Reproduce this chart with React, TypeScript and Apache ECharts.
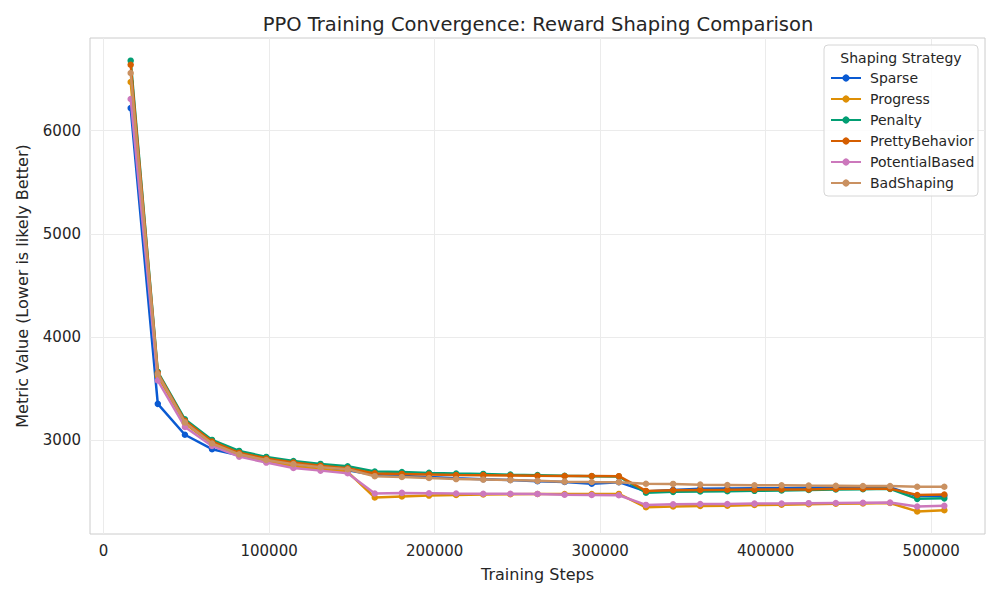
import React, { useEffect, useRef } from "react";
import * as echarts from "echarts";

const steps = [16384, 32768, 49152, 65536, 81920, 98304, 114688, 131072, 147456, 163840, 180224, 196608, 212992, 229376, 245760, 262144, 278528, 294912, 311296, 327680, 344064, 360448, 376832, 393216, 409600, 425984, 442368, 458752, 475136, 491520, 507904];

const sparse = [6220, 3350, 3050, 2910, 2850, 2790, 2750, 2725, 2705, 2660, 2650, 2640, 2628, 2618, 2612, 2600, 2592, 2575, 2590, 2500, 2515, 2525, 2528, 2530, 2532, 2535, 2537, 2538, 2540, 2455, 2458];
const progress = [6473, 3620, 3160, 2960, 2855, 2795, 2745, 2715, 2690, 2441, 2452, 2460, 2465, 2470, 2473, 2475, 2474, 2475, 2476, 2346, 2354, 2359, 2362, 2368, 2372, 2376, 2380, 2384, 2388, 2306, 2318];
const penalty = [6680, 3660, 3200, 3000, 2893, 2835, 2795, 2767, 2745, 2693, 2688, 2680, 2673, 2670, 2663, 2658, 2652, 2648, 2645, 2488, 2496, 2500, 2503, 2506, 2510, 2515, 2520, 2522, 2525, 2428, 2433];
const prettyBehavior = [6641, 3650, 3185, 2985, 2875, 2820, 2780, 2750, 2725, 2675, 2670, 2665, 2660, 2658, 2655, 2652, 2650, 2650, 2648, 2505, 2512, 2515, 2516, 2518, 2520, 2520, 2525, 2526, 2527, 2466, 2470];
const potentialBased = [6308, 3576, 3126, 2942, 2838, 2780, 2728, 2702, 2676, 2480, 2486, 2483, 2480, 2478, 2478, 2476, 2468, 2466, 2463, 2369, 2375, 2378, 2378, 2382, 2383, 2386, 2388, 2390, 2392, 2354, 2360];
const badShaping = [6560, 3640, 3170, 2965, 2860, 2805, 2765, 2735, 2715, 2648, 2640, 2630, 2620, 2615, 2610, 2603, 2595, 2592, 2590, 2575, 2573, 2566, 2563, 2560, 2560, 2557, 2555, 2553, 2552, 2545, 2545];

const seriesNames = ["Sparse", "Progress", "Penalty", "PrettyBehavior", "PotentialBased", "BadShaping"];
const seriesValues = [sparse, progress, penalty, prettyBehavior, potentialBased, badShaping];
const colors = ["#0a5ad2", "#de8f05", "#029e73", "#d55e00", "#cc78bc", "#ca9161"];

const xTicks = [0, 100000, 200000, 300000, 400000, 500000];
const yTicks = [3000, 4000, 5000, 6000];

const FONT = "DejaVu Sans";

export default function App() {
  const ref = useRef<HTMLDivElement>(null);
  useEffect(() => {
    if (!ref.current) return;
    const chart = echarts.init(ref.current, undefined, { renderer: "svg" });
    const series = seriesNames.map((name, i) => ({
      name,
      type: "line",
      data: steps.map((s, j) => [s, seriesValues[i][j]]),
      symbol: "circle",
      symbolSize: 6.5,
      showSymbol: true,
      lineStyle: { width: 2.5, color: colors[i] },
      itemStyle: { color: colors[i] },
      emphasis: { disabled: true },
      z: 2 + i,
    }));
    chart.setOption({
      animation: false,
      backgroundColor: "#ffffff",
      textStyle: { fontFamily: FONT },
      title: {
        text: "PPO Training Convergence: Reward Shaping Comparison",
        left: 538,
        top: 14,
        padding: 0,
        textAlign: "center",
        textStyle: { fontFamily: FONT, fontSize: 19.5, fontWeight: "normal", color: "#262626" },
      },
      grid: { left: 90, right: 15, top: 38, bottom: 66, show: true, borderColor: "#cccccc", borderWidth: 1, backgroundColor: "transparent" },
      xAxis: {
        type: "value",
        min: -8192,
        max: 532480,
        name: "Training Steps",
        nameLocation: "middle",
        nameGap: 32,
        nameTextStyle: { fontFamily: FONT, fontSize: 16, color: "#262626" },
        axisLine: { show: false },
        axisTick: { show: false, customValues: xTicks },
        axisLabel: { customValues: xTicks, margin: 9, fontFamily: FONT, fontSize: 15, color: "#262626", formatter: (v: number) => String(v) },
        splitLine: { show: true, lineStyle: { color: "#ebebeb", width: 1 } },
      },
      yAxis: {
        type: "value",
        min: 2087,
        max: 6900,
        name: "Metric Value (Lower is likely Better)",
        nameLocation: "middle",
        nameGap: 60,
        nameTextStyle: { fontFamily: FONT, fontSize: 16, color: "#262626" },
        axisLine: { show: false },
        axisTick: { show: false, customValues: yTicks },
        axisLabel: { customValues: yTicks, margin: 9, fontFamily: FONT, fontSize: 15, color: "#262626", formatter: (v: number) => String(v) },
        splitLine: { show: true, lineStyle: { color: "#ebebeb", width: 1 } },
      },
      legend: {
        data: seriesNames,
        orient: "vertical",
        left: 830,
        top: 71,
        itemWidth: 30,
        itemHeight: 9,
        itemGap: 7,
        padding: 0,
        selectedMode: false,
        textStyle: { fontFamily: FONT, fontSize: 14, color: "#262626", padding: [0, 0, 0, 4] },
        z: 10,
      },
      graphic: [
        {
          type: "rect",
          z: 8,
          shape: { x: 824, y: 45, width: 154, height: 151, r: 4 },
          style: { fill: "rgba(255,255,255,0.85)", stroke: "#d6d6d6", lineWidth: 1 },
        },
        {
          type: "text",
          z: 9,
          x: 901,
          y: 58,
          style: { text: "Shaping Strategy", fontFamily: FONT, fontSize: 14, fill: "#262626", align: "center", verticalAlign: "middle" },
        },
      ],
      series,
    });
    return () => chart.dispose();
  }, []);
  return <div ref={ref} style={{ position: "fixed", left: 0, top: 0, width: 1000, height: 600 }} />;
}
